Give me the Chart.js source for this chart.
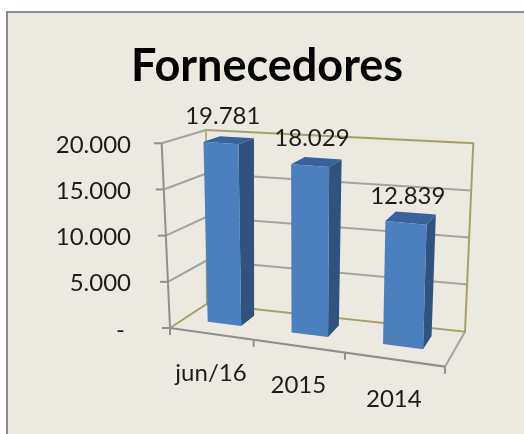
<!DOCTYPE html>
<html>
<head>
<meta charset="utf-8">
<style>
html,body{margin:0;padding:0;background:#fff}
canvas{display:block;filter:blur(0.5px)}
</style>
<script src="https://cdn.jsdelivr.net/npm/chart.js@4"></script>
</head>
<body>
<canvas id="c" width="524" height="434"></canvas>
<script>
const chartTitle = 'Fornecedores';
const categories = ['jun/16', '2015', '2014'];
const fornecedores = [19781, 18029, 12839];
const axisMax = 20000;
const axisStep = 5000;

// corners of the 3D box as seen in the picture (f/b = front/back, l/r, b/t)
const box = {
  flb:[170,328], frb:[445,366.7], blb:[206.7,304], brb:[465,331.7],
  flt:[161.7,143.3], frt:[451,166.7], blt:[206,130], brt:[473.3,143.3]
};
const perspective = -0.125, depthFront = 0.39, depthBack = 0.78;
const lerp = (a,b,t)=>[a[0]+(b[0]-a[0])*t, a[1]+(b[1]-a[1])*t];
function project(u,d,v){
  const t = u*(1+perspective)/(1+perspective*u);
  const bottom = lerp(lerp(box.flb,box.frb,t), lerp(box.blb,box.brb,t), d);
  const top = lerp(lerp(box.flt,box.frt,t), lerp(box.blt,box.brt,t), d);
  return lerp(bottom,top,v);
}
const fmt = n => String(n).replace(/\B(?=(\d{3})+$)/g,'.');
function line(ctx,pts,color,w){
  ctx.beginPath();
  pts.forEach((p,i)=> i?ctx.lineTo(p[0],p[1]):ctx.moveTo(p[0],p[1]));
  ctx.strokeStyle=color; ctx.lineWidth=w; ctx.stroke();
}
function poly(ctx,pts,color){
  ctx.beginPath();
  pts.forEach((p,i)=> i?ctx.lineTo(p[0],p[1]):ctx.moveTo(p[0],p[1]));
  ctx.closePath(); ctx.fillStyle=color; ctx.fill();
}
const GREY='#a3a3a0', DARK='#8f8f8f', OLIVE='#a89f68';
const FONT='Lato, Carlito, sans-serif';

const scene = {
  id:'scene',
  beforeDraw(chart){
    const {ctx,width,height}=chart;
    ctx.save();
    ctx.fillStyle='#fff'; ctx.fillRect(0,0,width,height);
    ctx.fillStyle='#8c8c8c'; ctx.fillRect(6,11,width-6,height-11);
    ctx.fillStyle='#ECEAE0'; ctx.fillRect(8,13,width-8,height-13);
    ctx.restore();
  },
  beforeDatasetsDraw(chart){
    const {ctx,scales:{y,x}}=chart;
    ctx.save(); ctx.lineCap='butt';
    y.ticks.forEach(tk=>{
      const v=(y.bottom-y.getPixelForValue(tk.value))/y.height;
      const a=project(0,0,v), b=project(0,1,v), c=project(1,1,v);
      if(tk.value!==0 && tk.value!==axisMax) line(ctx,[b,c],GREY,2);
      if(tk.value!==0) line(ctx,[a,b],GREY,2);
      line(ctx,[[a[0]-8,a[1]],a],DARK,2);
    });
    // back wall frame and floor
    line(ctx,[box.blt,box.brt,box.brb,box.blb,box.flb],OLIVE,2);
    line(ctx,[box.blt,box.blb],OLIVE,1.5);
    line(ctx,[box.flt,box.flb],DARK,2);
    line(ctx,[box.brb,box.frb],GREY,2);
    line(ctx,[box.flb,box.frb],DARK,2.2);
    for(let i=0;i<=categories.length;i++){
      const p=project(i/categories.length,0,0);
      line(ctx,[p,[p[0],p[1]+7]],DARK,2);
    }
    ctx.restore();
  },
  beforeDatasetDraw(chart,args){
    const {ctx,chartArea:ca,scales:{y}}=chart;
    const meta=args.meta;
    ctx.save();
    meta.data.forEach(el=>{
      const u0=(el.x-el.width/2-ca.left)/ca.width, u1=(el.x+el.width/2-ca.left)/ca.width;
      const v=(y.bottom-el.y)/y.height;
      const f=depthFront,b=depthBack;
      poly(ctx,[project(u1,f,0),project(u1,b,0),project(u1,b,v),project(u1,f,v)],'#30527F');
      poly(ctx,[project(u0,f,v),project(u1,f,v),project(u1,b,v),project(u0,b,v)],'#38629A');
      poly(ctx,[project(u0,f,0),project(u1,f,0),project(u1,f,v),project(u0,f,v)],chart.data.datasets[args.index].backgroundColor);
    });
    ctx.restore();
    return false;
  },
  afterDraw(chart){
    const {ctx,chartArea:ca,scales:{x,y}}=chart;
    const meta=chart.getDatasetMeta(0);
    ctx.save();
    ctx.font='24px '+FONT; ctx.fillStyle='#1c1c1c';
    ctx.textAlign='center'; ctx.textBaseline='middle';
    meta.data.forEach((el,i)=>{
      const u=(el.x-ca.left)/ca.width, v=(y.bottom-el.y)/y.height;
      const top=project(u,depthFront,v);
      ctx.fillText(fmt(fornecedores[i]),top[0]+2,top[1]-27);
      const base=project(u,0,0);
      ctx.fillText(x.getLabelForValue(i),base[0],base[1]+39.5);
    });
    ctx.restore();
  }
};

new Chart(document.getElementById('c'),{
  type:'bar',
  data:{labels:categories,datasets:[{label:chartTitle,data:fornecedores,backgroundColor:'#4C7FBD',categoryPercentage:1,barPercentage:0.41}]},
  plugins:[scene],
  options:{
    responsive:false,animation:false,
    layout:{padding:{left:10,right:0,top:0,bottom:104}},
    plugins:{
      legend:{display:false},tooltip:{enabled:false},
      title:{display:true,text:chartTitle,color:'#000',font:{family:FONT,size:45,weight:'bold'},padding:{top:39,bottom:52}}
    },
    scales:{
      x:{display:false},
      y:{
        min:0,max:axisMax,
        afterFit(s){s.width=124;},
        border:{display:false},
        grid:{display:false,drawTicks:false},
        ticks:{stepSize:axisStep,padding:3,color:'#1c1c1c',font:{family:FONT,size:24},
          callback:v=>v===0?'-\u00A0':fmt(v)}
      }
    }
  }
});
</script>
</body>
</html>
